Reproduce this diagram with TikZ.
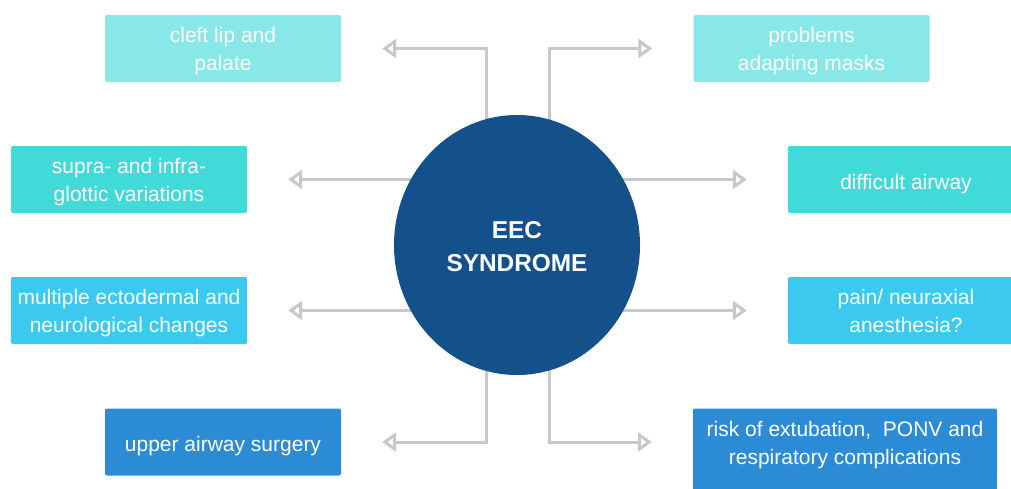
\documentclass[tikz,border=0pt]{standalone}
\usepackage{fontspec}
\setmainfont{Liberation Sans}
\usetikzlibrary{arrows.meta,backgrounds,calc,shapes.geometric}
\definecolor{cLight}{HTML}{88E8E8}
\definecolor{cTurq}{HTML}{40DAD8}
\definecolor{cSky}{HTML}{3BC9F0}
\definecolor{cBlue}{HTML}{2C8BD5}
\definecolor{cNavy}{HTML}{14508A}
\definecolor{cGray}{HTML}{C8C8C8}
\newcommand{\boxstrutA}{\rule[-6pt]{0pt}{31.6pt}}
\newcommand{\boxstrutB}{\rule[-6pt]{0pt}{26.6pt}}
\newcommand{\circstrutB}{\rule[-5pt]{0pt}{5pt}}
\newcommand{\fl}{\rule{0pt}{22.5pt}}
\newcommand{\cfl}{\rule{0pt}{25.5pt}}
\tikzset{
  box/.style={rectangle, rounded corners=2pt, minimum width=236pt, minimum height=67pt,
    inner sep=0pt, align=center, text=white, font=\fontsize{21}{28.3}\selectfont,
    execute at begin node=\boxstrutA, execute at end node=\boxstrutB},
  conn/.style={draw=cGray, line width=3pt,
    -{Triangle[open, length=14pt, width=19pt, line width=3pt]}},
}
\begin{document}
\begin{tikzpicture}[x=1pt,y=1pt]
\useasboundingbox (0,0) rectangle (1011,-488);
\clip (0,0) rectangle (1011,-488);
\node[ellipse, fill=cNavy, minimum width=246pt, minimum height=260pt, inner sep=0pt,
  text=white, align=center, font=\fontsize{24.4}{32.7}\selectfont\bfseries,
  execute at end node=\circstrutB] (c) at (517,-245) {\cfl EEC\\SYNDROME};
\node[box, fill=cLight] (cleft) at (223,-48.5) {\fl cleft lip and\\palate};
\node[box, fill=cLight] (masks) at (811.5,-48.5) {\fl problems\\adapting masks};
\node[box, fill=cTurq] (supra) at (129,-179.5) {\fl supra- and infra-\\glottic variations};
\node[box, fill=cTurq] (diff) at (906,-179.5) {difficult airway};
\node[box, fill=cSky] (ecto) at (129,-310.5) {\fl multiple ectodermal and\\neurological changes};
\node[box, fill=cSky] (pain) at (906,-310.5) {\fl pain/ neuraxial\\anesthesia?};
\node[box, fill=cBlue] (surg) at (223,-442) {upper airway surgery};
\node[box, fill=cBlue, minimum width=304pt] (risk) at (845,-442) {\fl risk of extubation,\ \ PONV and\\respiratory complications};
\begin{scope}[on background layer]
\fill[cBlue] (risk.west) rectangle ($(risk.south east)+(0,-30)$);
\draw[conn] ($(c.center)+(-31,0)$) |- ([xshift=41pt]cleft.east);
\draw[conn] ($(c.center)+(32,0)$) |- ([xshift=-41pt]masks.west);
\draw[conn] ($(c.center)+(-31,0)$) |- ([xshift=41pt]surg.east);
\draw[conn] ($(c.center)+(32,0)$) |- ([xshift=-41pt]risk.west);
\draw[conn] (c.center |- supra.east) -- ([xshift=41pt]supra.east);
\draw[conn] (c.center |- ecto.east) -- ([xshift=41pt]ecto.east);
\draw[conn] (c.center |- diff.west) -- ([xshift=-41pt]diff.west);
\draw[conn] (c.center |- pain.west) -- ([xshift=-41pt]pain.west);
\end{scope}
\end{tikzpicture}
\end{document}
